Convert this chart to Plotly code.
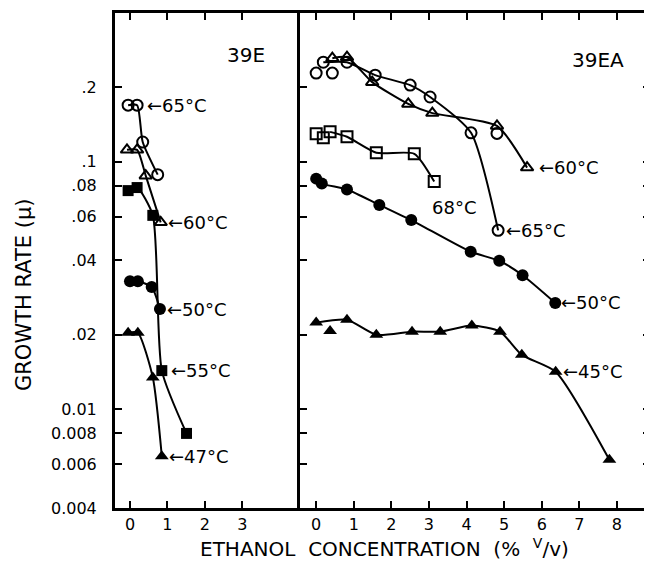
import math
import plotly.graph_objects as go

# ---------------- data (39E, left panel) ----------------
e39_65_x = [-0.05, 0.19, 0.34, 0.74]
e39_65_y = [0.169, 0.169, 0.120, 0.0886]
e39_60_x = [-0.08, 0.19, 0.42, 0.82]
e39_60_y = [0.1116, 0.1116, 0.0878, 0.0569]
e39_55_x = [-0.05, 0.19, 0.61, 0.85, 1.51]
e39_55_y = [0.0764, 0.0786, 0.0607, 0.01434, 0.0080]
e39_50_x = [0.0, 0.21, 0.58, 0.80]
e39_50_y = [0.0329, 0.0329, 0.0312, 0.0254]
e39_47_x = [-0.05, 0.21, 0.61, 0.85]
e39_47_y = [0.0204, 0.0204, 0.01344, 0.00647]

# ---------------- data (39EA, right panel) ----------------
ea_65_x = [0.19, 0.82, 1.57, 2.5, 3.03, 4.12, 4.84]
ea_65_y = [0.252, 0.252, 0.2234, 0.2037, 0.1824, 0.1307, 0.0528]
ea_65_loose_x = [0.0, 0.43, 4.81]
ea_65_loose_y = [0.2277, 0.2277, 0.130]
ea_60_x = [0.43, 0.82, 1.49, 2.45, 3.09, 4.81, 5.61]
ea_60_y = [0.2615, 0.264, 0.2094, 0.171, 0.157, 0.1394, 0.0946]
ea_68_x = [0.37, 0.82, 1.6, 2.61, 3.14]
ea_68_y = [0.1319, 0.126, 0.1086, 0.1076, 0.0831]
ea_68_loose_x = [0.0, 0.19]
ea_68_loose_y = [0.1295, 0.1248]
ea_50_x = [0.0, 0.15, 0.82, 1.68, 2.53, 4.11, 4.87, 5.49, 6.36]
ea_50_y = [0.0854, 0.0816, 0.0772, 0.0669, 0.0581, 0.0433, 0.0398, 0.0348, 0.0269]
ea_45_x = [0.0, 0.82, 1.6, 2.55, 3.3, 4.14, 4.89, 5.47, 6.37, 7.8]
ea_45_y = [0.0224, 0.0230, 0.0200, 0.0206, 0.0206, 0.0218, 0.0206, 0.0166, 0.0142, 0.00626]
ea_45_loose_x = [0.37]
ea_45_loose_y = [0.0207]

y_tickvals = [0.004, 0.006, 0.008, 0.01, 0.02, 0.04, 0.06, 0.08, 0.1, 0.2]
y_ticktext = ["0.004", "0.006", "0.008", "0.01", ".02", ".04", ".06", ".08", ".1", ".2"]
xl_ticks = [0, 1, 2, 3]
xr_ticks = [0, 1, 2, 3, 4, 5, 6, 7, 8]

FONT = "DejaVu Sans"
BLACK = "black"

fig = go.Figure()


def add(x, y, symbol, xa, ya, mode="lines+markers", size=10, lw=2):
    open_ = symbol.endswith("open")
    fig.add_trace(go.Scatter(
        x=x, y=y, mode=mode, xaxis=xa, yaxis=ya,
        line=dict(color=BLACK, width=2, shape="spline", smoothing=0.6),
        marker=dict(symbol=symbol, size=size, color=BLACK,
                    line=dict(color=BLACK, width=lw if open_ else 0)),
        showlegend=False, hoverinfo="skip"))


# left panel
add(e39_65_x, e39_65_y, "circle-open", "x", "y", size=11)
add(e39_60_x, e39_60_y, "triangle-up-open", "x", "y", size=11)
add(e39_55_x, e39_55_y, "square", "x", "y", size=11)
add(e39_50_x, e39_50_y, "circle", "x", "y", size=12)
add(e39_47_x, e39_47_y, "triangle-up", "x", "y", size=12)

# right panel
add(ea_65_x, ea_65_y, "circle-open", "x2", "y2", size=11)
add(ea_65_loose_x, ea_65_loose_y, "circle-open", "x2", "y2", mode="markers", size=11)
add(ea_60_x, ea_60_y, "triangle-up-open", "x2", "y2", size=11)
add(ea_68_x, ea_68_y, "square-open", "x2", "y2", size=11)
add(ea_68_loose_x, ea_68_loose_y, "square-open", "x2", "y2", mode="markers", size=11)
add(ea_50_x, ea_50_y, "circle", "x2", "y2", size=12)
add(ea_45_x, ea_45_y, "triangle-up", "x2", "y2", size=12)
add(ea_45_loose_x, ea_45_loose_y, "triangle-up", "x2", "y2", mode="markers", size=12)

tickfont = dict(family=FONT, size=16, color=BLACK)
axis_common = dict(showline=True, linecolor=BLACK, linewidth=3, ticks="inside",
                   ticklen=7, tickwidth=2, tickcolor=BLACK, showgrid=False,
                   zeroline=False, tickfont=tickfont, automargin=False)

# the page body adds an 8 px offset; figure is sized to fit the window
OFF = 8
W, H = 644, 559
ML, MR, MT, MB = 115 - OFF, 2, 13 - OFF, H - (508 - OFF)
pw = W - ML - MR
ph = H - MT - MB
split = (300 - OFF - ML) / pw

fig.update_layout(
    width=W, height=H,
    margin=dict(l=ML, r=MR, t=MT, b=MB),
    paper_bgcolor="white", plot_bgcolor="white",
    xaxis=dict(domain=[0, split], range=[-0.40, 4.54], tickvals=xl_ticks,
               mirror="ticks", ticklabelstandoff=0, anchor="y", **axis_common),
    xaxis2=dict(domain=[split, 1], range=[-0.43, 8.88], tickvals=xr_ticks,
                mirror="ticks", ticklabelstandoff=0, anchor="y2", **axis_common),
    yaxis=dict(type="log", range=[-2.398, -0.400], tickvals=y_tickvals,
               ticktext=y_ticktext, mirror=False, ticklabelstandoff=12,
               anchor="x", **axis_common),
    yaxis2=dict(type="log", range=[-2.398, -0.400], tickvals=y_tickvals,
                showticklabels=False, mirror="ticks", anchor="x2",
                matches="y", **axis_common),
)

lab = dict(family=FONT, size=18, color=BLACK)
big = dict(family=FONT, size=20, color=BLACK)
L = math.log10


def label(text, x, y, xa, ya, xshift=0, xanchor="left", font=lab):
    fig.add_annotation(text=text, x=x, y=y, xref=xa, yref=ya, showarrow=False,
                       xanchor=xanchor, yanchor="middle", xshift=xshift,
                       font=font)


label("←65°C", e39_65_x[1], L(e39_65_y[1]), "x", "y", xshift=8)
label("←60°C", e39_60_x[3], L(e39_60_y[3]), "x", "y", xshift=5)
label("←50°C", e39_50_x[3], L(e39_50_y[3]), "x", "y", xshift=5)
label("←55°C", e39_55_x[3], L(e39_55_y[3]), "x", "y", xshift=7)
label("←47°C", e39_47_x[3], L(e39_47_y[3]), "x", "y", xshift=5)
label("39E", 3.1, L(0.269), "x", "y", xanchor="center", font=big)

label("←60°C", ea_60_x[-1], L(ea_60_y[-1]), "x2", "y2", xshift=10)
label("←65°C", ea_65_x[-1], L(ea_65_y[-1]), "x2", "y2", xshift=6)
label("←50°C", ea_50_x[-1], L(ea_50_y[-1]), "x2", "y2", xshift=4)
label("←45°C", ea_45_x[-2], L(ea_45_y[-2]), "x2", "y2", xshift=5)
label("68°C", 3.67, L(0.0653), "x2", "y2", xanchor="center")
label("39EA", 7.5, L(0.257), "x2", "y2", xanchor="center", font=big)


def page_to_paper(px, py):
    return (px - OFF - ML) / pw, (H - MB - (py - OFF)) / ph


# axis titles
tx, ty = page_to_paper(24, 295)
fig.add_annotation(text="GROWTH RATE (μ)", xref="paper", yref="paper",
                   x=tx, y=ty, textangle=-90, showarrow=False,
                   xanchor="center", yanchor="middle",
                   font=dict(family=FONT, size=21, color=BLACK))
tx, ty = page_to_paper(385, 548)
fig.add_annotation(text="ETHANOL  CONCENTRATION  (%  <sup>V</sup>/v)",
                   xref="paper", yref="paper", x=tx, y=ty,
                   showarrow=False, xanchor="center", yanchor="middle",
                   font=dict(family=FONT, size=20, color=BLACK))

fig.write_html("out.html")
